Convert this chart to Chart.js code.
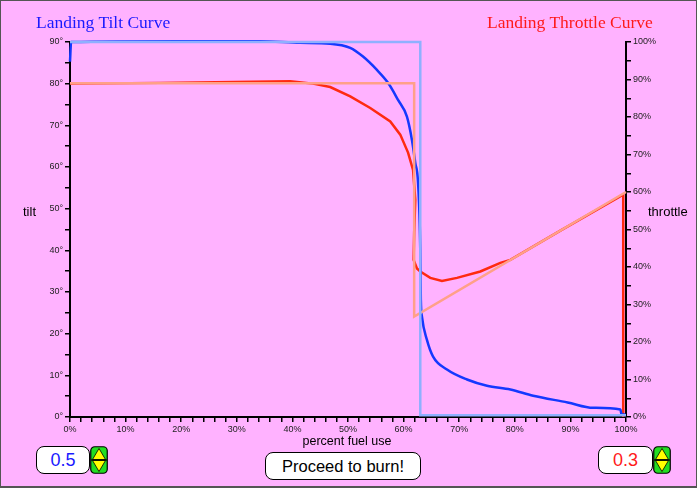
<!DOCTYPE html>
<html>
<head>
<meta charset="utf-8">
<script src="https://cdn.jsdelivr.net/npm/chart.js@4"></script>
<style>
  html, body { margin: 0; padding: 0; }
  body { width: 697px; height: 488px; background: #ffb2ff; position: relative; overflow: hidden; }
  #frame { position: absolute; left: 0; top: 0; width: 697px; height: 488px; box-sizing: border-box;
           border: 1px solid #555; border-bottom-width: 2px; pointer-events: none; }
  #myChart { position: absolute; left: 0; top: 0; }
  .lbl { position: absolute; font-family: "Liberation Sans", Arial, sans-serif; color: #000; white-space: nowrap; }
  .title { position: absolute; font-family: "Liberation Serif", "Times New Roman", serif; font-size: 17.5px; line-height: 17.5px; white-space: nowrap; }
  .box { position: absolute; box-sizing: border-box; background: #fff; border: 1.5px solid #000; border-radius: 8px;
         display: flex; align-items: center; justify-content: center; font-family: "Liberation Sans", Arial, sans-serif; }
  .spin { position: absolute; }
</style>
</head>
<body>
<canvas id="myChart" width="697" height="488"></canvas>

<div class="title" style="left:36px; top:13.6px; color:#1a1aff;">Landing Tilt Curve</div>
<div class="title" style="left:487px; top:13.6px; color:#ff1a1a;">Landing Throttle Curve</div>

<div class="lbl" style="left:23px; top:204px; font-size:13px; line-height:16px;">tilt</div>
<div class="lbl" style="left:648px; top:204px; font-size:13px; line-height:16px;">throttle</div>
<div class="lbl" style="left:247px; width:200px; text-align:center; top:433px; font-size:12.5px; line-height:16px;">percent fuel use</div>

<div class="box" style="left:36px; top:446px; width:54px; height:28px; color:#1a1aff; font-size:18px;">0.5</div>
<svg class="spin" style="left:90px; top:446px;" width="18" height="28" viewBox="0 0 18 28">
  <rect x="0.75" y="0.75" width="16.5" height="26.5" rx="4" fill="#22dd22" stroke="#000" stroke-width="1.2"/>
  <polygon points="9,2.5 15.5,13.5 2.5,13.5" fill="#ffff00" stroke="#000" stroke-width="0.8"/>
  <polygon points="2.5,14.5 15.5,14.5 9,25.5" fill="#ffff00" stroke="#000" stroke-width="0.8"/>
  <line x1="1" y1="14" x2="17" y2="14" stroke="#000" stroke-width="1.2"/>
</svg>

<div class="box" style="left:265px; top:452px; width:156px; height:28px; color:#000; font-size:16.5px;">Proceed to burn!</div>

<div class="box" style="left:598px; top:446px; width:55px; height:28px; color:#ff1a1a; font-size:18px;">0.3</div>
<svg class="spin" style="left:653px; top:446px;" width="18" height="28" viewBox="0 0 18 28">
  <rect x="0.75" y="0.75" width="16.5" height="26.5" rx="4" fill="#22dd22" stroke="#000" stroke-width="1.2"/>
  <polygon points="9,2.5 15.5,13.5 2.5,13.5" fill="#ffff00" stroke="#000" stroke-width="0.8"/>
  <polygon points="2.5,14.5 15.5,14.5 9,25.5" fill="#ffff00" stroke="#000" stroke-width="0.8"/>
  <line x1="1" y1="14" x2="17" y2="14" stroke="#000" stroke-width="1.2"/>
</svg>

<div id="frame"></div>

<script>
// curva alvo de inclinação (graus) x percentual de combustível
var targetTiltFuel = [0, 63.0, 63.0, 100];
var targetTiltValues = [90, 90, 0.4, 0.4];

// curva alvo do acelerador (%)
var targetThrottleFuel = [0, 61.9, 61.9, 100];
var targetThrottleValues = [89, 89, 26.8, 60];

// curva real de inclinação
var tiltFuel = [0, 0.2, 19.8, 34.2, 41.4, 46.8, 50.4, 52.7, 55.2, 57.2, 59.0, 60.6, 61.5, 62.1, 62.6, 63.0, 63.1, 63.3, 64.2, 65.3, 67.8, 71.4, 75.0, 79.2, 83.3, 89.5, 94.1, 99.0, 99.2, 99.9];
var tiltValues = [85.3, 90, 90.2, 90.2, 89.8, 89.6, 88.6, 86.5, 83.3, 80.2, 76.1, 72.1, 66.5, 61.0, 56.2, 40.1, 28.2, 24.1, 18.5, 14.5, 11.4, 9.0, 7.5, 6.6, 5.1, 3.5, 2.2, 1.8, 0.6, 0.6];

// curva real do acelerador
var throttleFuel = [0, 16.2, 39.6, 43.7, 46.8, 50.4, 54.0, 57.6, 59.4, 60.8, 61.7, 62.1, 61.9, 61.8, 62.4, 63.0, 64.8, 66.9, 69.6, 73.8, 77.4, 79.2, 88.2, 99.5, 99.5];
var throttleValues = [88.9, 89.1, 89.5, 88.9, 88.0, 85.5, 82.4, 78.8, 75.3, 70.5, 65.9, 57.9, 49.1, 41.9, 39.6, 38.8, 37.1, 36.3, 37.1, 38.8, 41.1, 41.9, 49.7, 59.3, 0];

// rótulos dos eixos
var xTickEvery = 10;
var tiltTickEvery = 10;
var throttleTickEvery = 10;

function pares(xs, ys) {
  return xs.map(function (x, i) { return { x: x, y: ys[i] }; });
}

var tickFont = { family: 'Liberation Sans', size: 9 };

var ctx = document.getElementById('myChart');
var myChart = new Chart(ctx, {
  type: 'scatter',
  data: {
    datasets: [
      { label: 'target tilt', data: pares(targetTiltFuel, targetTiltValues), yAxisID: 'y',
        borderColor: '#8fb0ff', borderWidth: 2.5, showLine: true, pointRadius: 0, tension: 0 },
      { label: 'target throttle', data: pares(targetThrottleFuel, targetThrottleValues), yAxisID: 'y1',
        borderColor: '#ffa088', borderWidth: 2.5, showLine: true, pointRadius: 0, tension: 0 },
      { label: 'tilt', data: pares(tiltFuel, tiltValues), yAxisID: 'y',
        borderColor: '#1438ff', borderWidth: 2.5, showLine: true, pointRadius: 0, cubicInterpolationMode: 'monotone' },
      { label: 'throttle', data: pares(throttleFuel, throttleValues), yAxisID: 'y1',
        borderColor: '#ff2a10', borderWidth: 2.5, showLine: true, pointRadius: 0, tension: 0 }
    ]
  },
  options: {
    responsive: false,
    animation: false,
    devicePixelRatio: 1,
    clip: false,
    layout: { padding: { top: 42, left: 0, right: 0, bottom: 0 } },
    plugins: { legend: { display: false }, tooltip: { enabled: false } },
    scales: {
      x: {
        type: 'linear', position: 'bottom', min: 0, max: 100,
        ticks: {
          stepSize: 2, autoSkip: false, maxRotation: 0, padding: 2, color: '#222', font: tickFont,
          callback: function (v) { v = Math.round(v); return v % xTickEvery === 0 ? v + '%' : ''; }
        },
        grid: { drawOnChartArea: false, drawTicks: true, tickLength: 5, color: '#000', lineWidth: 1.5 },
        border: { color: '#000', width: 2 },
        afterFit: function (s) { s.height = 71; }
      },
      y: {
        type: 'linear', position: 'left', min: 0, max: 90,
        ticks: {
          stepSize: 5, autoSkip: false, padding: 2, color: '#222', font: tickFont,
          callback: function (v) { v = Math.round(v); return v % tiltTickEvery === 0 ? v + '°' : ''; }
        },
        grid: { drawOnChartArea: false, drawTicks: true, tickLength: 5, color: '#000', lineWidth: 1.5 },
        border: { color: '#000', width: 2 },
        afterFit: function (s) { s.width = 70; }
      },
      y1: {
        type: 'linear', position: 'right', min: 0, max: 100,
        ticks: {
          stepSize: 5, autoSkip: false, padding: 2, color: '#222', font: tickFont,
          callback: function (v) { v = Math.round(v); return v % throttleTickEvery === 0 ? v + '%' : ''; }
        },
        grid: { drawOnChartArea: false, drawTicks: true, tickLength: 5, color: '#000', lineWidth: 1.5 },
        border: { color: '#000', width: 2 },
        afterFit: function (s) { s.width = 71; }
      }
    }
  }
});
</script>
</body>
</html>
